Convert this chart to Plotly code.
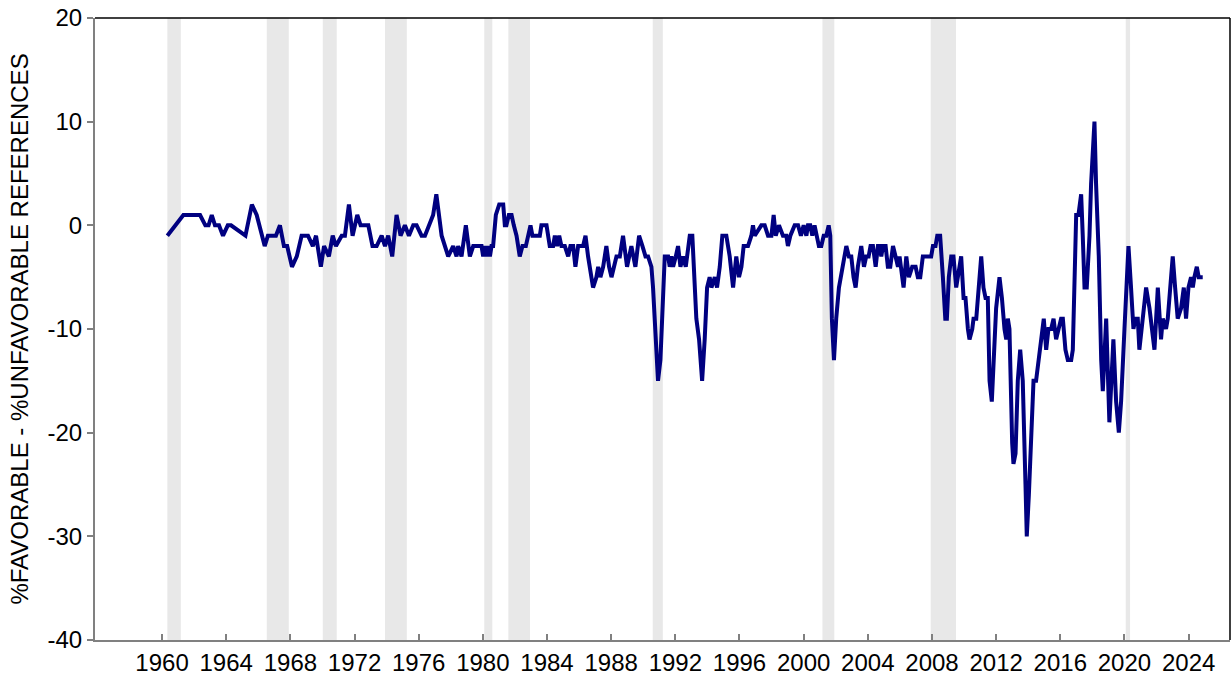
import plotly.graph_objects as go

# Survey balance: % favorable minus % unfavorable references (decimal years)
years_1960_1977 = [1960.33, 1961.33, 1962.37, 1962.70, 1962.90, 1963.10, 1963.30, 1963.55, 1963.80,
                   1964.10, 1964.30, 1965.20, 1965.60, 1965.90, 1966.40, 1966.60, 1967.10, 1967.35,
                   1967.60, 1967.80, 1968.10, 1968.40, 1968.70, 1969.10, 1969.40, 1969.60, 1969.90,
                   1970.10, 1970.40, 1970.64, 1970.84, 1971.20, 1971.40, 1971.65, 1971.88, 1972.17,
                   1972.38, 1972.86, 1973.12, 1973.38, 1973.69, 1973.90, 1974.10, 1974.35, 1974.62,
                   1974.87, 1975.14, 1975.39, 1975.66, 1975.87, 1976.18, 1976.39, 1976.90, 1977.10,
                   1977.43]
vals_1960_1977 = [-1, 1, 1, 0, 0, 1, 0, 0, -1,
                  0, 0, -1, 2, 1, -2, -1, -1, 0,
                  -2, -2, -4, -3, -1, -1, -2, -1, -4,
                  -2, -3, -1, -2, -1, -1, 2, -1, 1,
                  0, 0, -2, -2, -1, -2, -1, -3, 1,
                  -1, 0, -1, 0, 0, -1, -1, 1, 3,
                  -1]

years_1977_1988 = [1977.84, 1978.15, 1978.36, 1978.46, 1978.67, 1978.94, 1979.19, 1979.40, 1979.92,
                   1980.02, 1980.12, 1980.23, 1980.33, 1980.44, 1980.54, 1980.64, 1980.81, 1981.02,
                   1981.27, 1981.37, 1981.47, 1981.62, 1981.79, 1981.93, 1982.10, 1982.30, 1982.47,
                   1982.68, 1982.82, 1982.97, 1983.09, 1983.55, 1983.65, 1983.97, 1984.17, 1984.38,
                   1984.49, 1984.63, 1984.76, 1984.90, 1985.11, 1985.32, 1985.46, 1985.63, 1985.77,
                   1985.94, 1986.25, 1986.40, 1986.56, 1986.77, 1986.87, 1987.08, 1987.19, 1987.33,
                   1987.50, 1987.70, 1987.87, 1988.02, 1988.16, 1988.33]
vals_1977_1988 = [-3, -2, -3, -2, -3, 0, -3, -2, -2,
                  -3, -2, -3, -2, -3, -2, -2, 1, 2,
                  2, 0, 0, 1, 1, 0, -1, -3, -2,
                  -2, -1, 0, -1, -1, 0, 0, -2, -2,
                  -1, -2, -1, -2, -2, -3, -2, -2, -4,
                  -2, -2, -1, -3, -5, -6, -5, -4, -5,
                  -4, -2, -4, -5, -4, -3]

years_1988_1999 = [1988.54, 1988.74, 1988.99, 1989.26, 1989.51, 1989.74, 1989.95, 1990.14, 1990.30,
                   1990.51, 1990.61, 1990.82, 1990.92, 1991.07, 1991.34, 1991.55, 1991.65, 1991.76,
                   1991.86, 1992.03, 1992.17, 1992.32, 1992.48, 1992.65, 1992.90, 1993.06, 1993.31,
                   1993.48, 1993.67, 1993.83, 1993.98, 1994.14, 1994.25, 1994.46, 1994.60, 1994.77,
                   1994.93, 1995.18, 1995.39, 1995.60, 1995.80, 1995.97, 1996.12, 1996.26, 1996.53,
                   1996.74, 1996.84, 1996.95, 1997.36, 1997.57, 1997.78, 1997.99, 1998.13, 1998.26,
                   1998.46, 1998.71, 1998.92, 1999.02, 1999.17, 1999.44, 1999.65, 1999.83]
vals_1988_1999 = [-3, -1, -4, -2, -4, -1, -2, -3, -3,
                  -4, -6, -13, -15, -13, -3, -3, -4, -3,
                  -4, -3, -2, -4, -3, -4, -1, -1, -9,
                  -11, -15, -11, -6, -5, -6, -5, -6, -4,
                  -1, -1, -3, -6, -3, -5, -4, -2, -2,
                  -1, 0, -1, 0, 0, -1, -1, 1, -1,
                  0, -1, -1, -2, -1, 0, 0, -1]

years_2000_2009 = [2000.00, 2000.17, 2000.27, 2000.41, 2000.54, 2000.68, 2000.83, 2000.95, 2001.10,
                   2001.25, 2001.41, 2001.56, 2001.66, 2001.76, 2001.89, 2002.03, 2002.20, 2002.41,
                   2002.55, 2002.66, 2002.82, 2002.97, 2003.11, 2003.24, 2003.38, 2003.59, 2003.76,
                   2003.90, 2004.05, 2004.17, 2004.32, 2004.49, 2004.63, 2004.73, 2004.84, 2004.94,
                   2005.11, 2005.25, 2005.40, 2005.57, 2005.73, 2005.88, 2005.98, 2006.23, 2006.40,
                   2006.56, 2006.77, 2006.98, 2007.12, 2007.27, 2007.43, 2007.95, 2008.06, 2008.22,
                   2008.33, 2008.51, 2008.68, 2008.83, 2008.93, 2009.05, 2009.20, 2009.34, 2009.51,
                   2009.68, 2009.82, 2009.97]
vals_2000_2009 = [0, -1, 0, 0, -1, 0, -1, -2, -2,
                  -1, -1, 0, -1, -9, -13, -9, -6, -4,
                  -3, -2, -3, -3, -5, -6, -4, -2, -4,
                  -3, -3, -2, -2, -4, -2, -2, -3, -2,
                  -2, -4, -4, -2, -3, -4, -3, -6, -3,
                  -5, -4, -4, -5, -5, -3, -3, -2, -2,
                  -1, -1, -5, -9, -9, -5, -3, -3, -6,
                  -4, -3, -7]

years_2010_2024 = [2010.09, 2010.24, 2010.34, 2010.51, 2010.59, 2010.76, 2010.92, 2011.07, 2011.21,
                   2011.34, 2011.48, 2011.59, 2011.73, 2011.84, 2012.00, 2012.21, 2012.36, 2012.52,
                   2012.63, 2012.73, 2012.83, 2013.00, 2013.08, 2013.21, 2013.35, 2013.50, 2013.66,
                   2013.83, 2013.91, 2014.04, 2014.18, 2014.33, 2014.49, 2014.66, 2014.81, 2014.97,
                   2015.12, 2015.26, 2015.43, 2015.58, 2015.74, 2015.89, 2016.05, 2016.16, 2016.32,
                   2016.47, 2016.68, 2016.78, 2016.99, 2017.13, 2017.30, 2017.40, 2017.51, 2017.65,
                   2017.82, 2017.92, 2018.13, 2018.23, 2018.40, 2018.55, 2018.65, 2018.86, 2019.06,
                   2019.31, 2019.48, 2019.65, 2019.79, 2020.00, 2020.25, 2020.41, 2020.56, 2020.68,
                   2020.83, 2020.93, 2021.08, 2021.20, 2021.35, 2021.56, 2021.70, 2021.87, 2022.08,
                   2022.28, 2022.39, 2022.59, 2022.70, 2022.84, 2023.01, 2023.16, 2023.32, 2023.53,
                   2023.70, 2023.84, 2023.99, 2024.15, 2024.26, 2024.36, 2024.51, 2024.63, 2024.88]
vals_2010_2024 = [-7, -10, -11, -10, -9, -9, -6, -3, -6,
                  -7, -7, -15, -17, -13, -8, -5, -7, -10,
                  -11, -9, -10, -21, -23, -22, -15, -12, -15,
                  -25, -30, -26, -20, -15, -15, -13, -11, -9,
                  -12, -10, -10, -9, -11, -10, -9, -9, -12,
                  -13, -13, -12, 1, 1, 3, -1, -6, -6,
                  -1, 4, 10, 4, -3, -13, -16, -9, -19,
                  -11, -17, -20, -17, -10, -2, -6, -10, -9,
                  -9, -12, -10, -8, -6, -8, -10, -12, -6,
                  -11, -9, -10, -9, -6, -3, -6, -9, -8,
                  -6, -9, -6, -5, -6, -5, -4, -5, -5]

# Shaded periods (start, end) in decimal years
band_starts = [1960.33, 1966.53, 1970.02, 1973.90, 1980.09, 1981.59, 1990.59, 2001.17, 2007.92, 2020.08]
band_ends = [1961.17, 1967.90, 1970.89, 1975.26, 1980.59, 1982.94, 1991.22, 2001.91, 2009.50, 2020.35]

tick_years = list(range(1960, 2025, 4))
y_ticks = [-40, -30, -20, -10, 0, 10, 20]
y_tick_text = ["-40", "-30", "-20", "-10", "0", "10", "20"]

x = years_1960_1977 + years_1977_1988 + years_1988_1999 + years_2000_2009 + years_2010_2024
y = vals_1960_1977 + vals_1977_1988 + vals_1988_1999 + vals_2000_2009 + vals_2010_2024

FONT = "Liberation Sans, Arial, sans-serif"

fig = go.Figure()
fig.add_trace(go.Scatter(
    x=x, y=y, mode="lines",
    line=dict(color="#000080", width=4),
    hoverinfo="x+y", showlegend=False,
))

shapes = []
for s, e in zip(band_starts, band_ends):
    shapes.append(dict(type="rect", xref="x", yref="paper", x0=s, x1=e, y0=0, y1=1,
                       fillcolor="#e8e8e8", line=dict(width=0), layer="below"))
# black frame on top and right
shapes.append(dict(type="line", xref="paper", yref="paper", x0=0, x1=1, y0=1, y1=1,
                   line=dict(color="black", width=1.5), layer="above"))
shapes.append(dict(type="line", xref="paper", yref="paper", x0=1, x1=1, y0=0, y1=1,
                   line=dict(color="black", width=1.5), layer="above"))

fig.update_layout(
    width=1232, height=683,
    margin=dict(l=95, r=2, t=18, b=43),
    paper_bgcolor="white", plot_bgcolor="white",
    font=dict(family=FONT, size=24, color="black"),
    shapes=shapes,
    xaxis=dict(
        range=[1955.82, 2026.58], tickmode="array", tickvals=tick_years,
        ticktext=[str(t) for t in tick_years],
        ticks="inside", ticklen=6, tickwidth=1.5, tickcolor="#808080",
        showline=True, linecolor="#808080", linewidth=2,
        showgrid=False, zeroline=False,
        tickfont=dict(family=FONT, size=24, color="black"),
    ),
    yaxis=dict(
        range=[-40, 20], tickmode="array", tickvals=y_ticks, ticktext=y_tick_text,
        ticks="outside", ticklen=6, tickwidth=1.5, tickcolor="#808080",
        showline=True, linecolor="#808080", linewidth=2,
        showgrid=False, zeroline=False,
        tickfont=dict(family=FONT, size=24, color="black"),
        title=dict(text="%FAVORABLE - %UNFAVORABLE REFERENCES",
                   font=dict(family=FONT, size=24, color="black"), standoff=12),
    ),
)

fig.write_html("out.html")
